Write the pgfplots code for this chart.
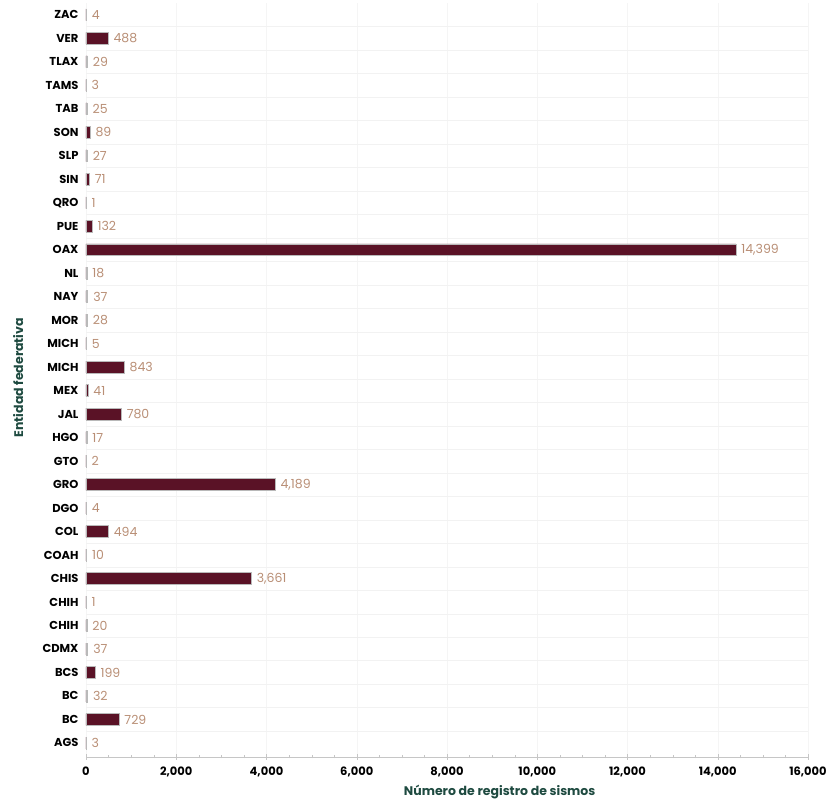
\documentclass[border=0pt]{standalone}
\usepackage{fontspec}
\setmainfont{Poppins}
\usepackage{pgfplots}
\pgfplotsset{compat=1.18}
\definecolor{barc}{HTML}{5A1226}
\definecolor{valc}{HTML}{B98F76}
\definecolor{labc}{HTML}{1E4A40}
\begin{document}
\begin{tikzpicture}
\useasboundingbox (-86pt,-48pt) rectangle (750pt,757pt);
\begin{axis}[
  scale only axis, width=722pt, height=754pt,
  xmin=0, xmax=16000, ymin=-0.6, ymax=31.5,
  axis x line*=bottom, axis y line*=left,
  y axis line style={draw=none},
  x axis line style={gray!45},
  xtick={0,2000,...,16000},
  minor x tick num=3,
  scaled x ticks=false,
  /pgf/number format/assume math mode=true,
  /pgf/number format/1000 sep={,},
  xticklabel style={font=\fontsize{11.5}{13}\selectfont\bfseries, yshift=-3pt},
  tick align=center,
  major tick length=6pt, minor tick length=3pt,
  x tick style={gray!45},
  ytick={0,...,31},
  yticklabels={AGS,BC,BC,BCS,CDMX,CHIH,CHIH,CHIS,COAH,COL,DGO,GRO,GTO,HGO,JAL,MEX,MICH,MICH,MOR,NAY,NL,OAX,PUE,QRO,SIN,SLP,SON,TAB,TAMS,TLAX,VER,ZAC},
  yticklabel style={font=\fontsize{11.5}{13}\selectfont\bfseries, xshift=-1pt},
  y tick style={draw=none},
  minor ytick={0.5,1.5,...,30.5},
  xmajorgrids, yminorgrids,
  major grid style={gray!8},
  minor grid style={gray!10},
  xlabel={Número de registro de sismos},
  ylabel={Entidad federativa},
  xlabel style={font=\fontsize{12.5}{14}\selectfont\bfseries, text=labc, at={(axis description cs:0.573,0)}, anchor=north, yshift=-25pt},
  ylabel style={font=\fontsize{12.5}{14}\selectfont\bfseries, text=labc, at={(axis description cs:-0.094,0.503)}, anchor=center},
  clip=false,
]
\addplot[xbar, bar width=0.5, fill=barc, draw=gray!55, line width=0.5pt,
  point meta=x,
  nodes near coords={\pgfmathprintnumber[1000 sep={,},fixed,precision=0]{\pgfplotspointmeta}},
  every node near coord/.append style={font=\fontsize{12.5}{14}\selectfont, text=valc, anchor=west, xshift=2pt}
] coordinates {
(3,0) (729,1) (32,2) (199,3) (37,4) (20,5) (1,6) (3661,7) (10,8) (494,9)
(4,10) (4189,11) (2,12) (17,13) (780,14) (41,15) (843,16) (5,17) (28,18) (37,19)
(18,20) (14399,21) (132,22) (1,23) (71,24) (27,25) (89,26) (25,27) (3,28) (29,29)
(488,30) (4,31)
};
\end{axis}
\end{tikzpicture}
\end{document}
